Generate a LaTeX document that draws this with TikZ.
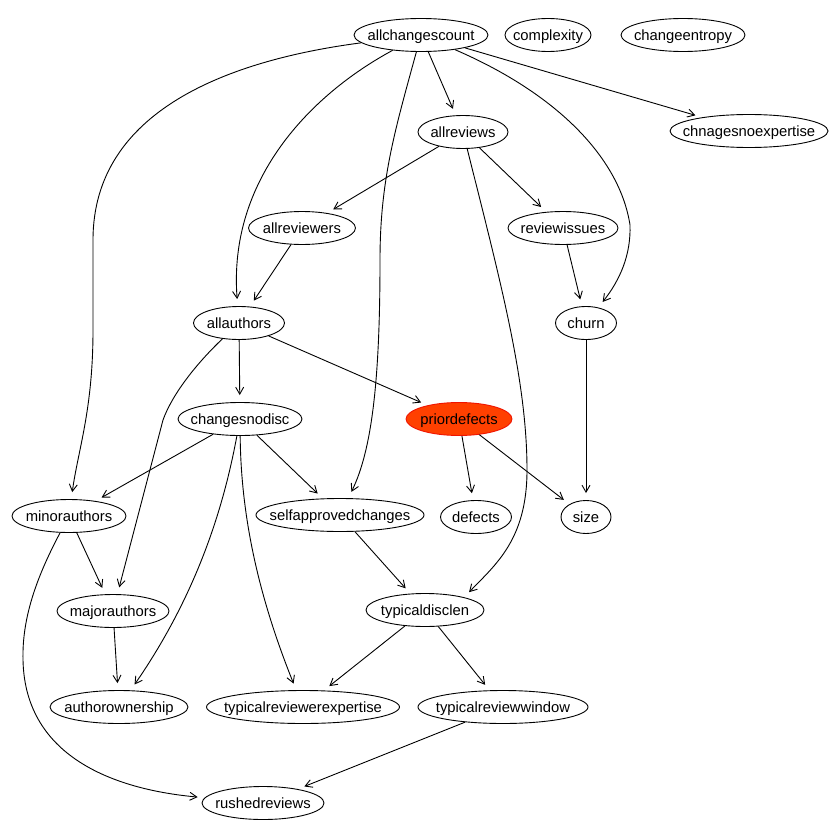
\documentclass[tikz,border=0pt]{standalone}
\usepackage{fontspec}
\setmainfont{Liberation Sans}
\usetikzlibrary{shapes.geometric,arrows.meta}
\definecolor{hilite}{RGB}{255,64,0}
\definecolor{hiliteborder}{RGB}{240,20,0}
% zero-width label so the ellipse keeps its given width
\newcommand{\vlabel}[1]{\makebox[0pt]{#1}}

\begin{document}
\begin{tikzpicture}[x=1pt,y=-1pt,
  var/.style={ellipse, draw, line width=0.9pt, inner sep=0pt, minimum height=33pt,
              text height=10.6pt, text depth=0pt, font=\fontsize{14.8}{17}\selectfont},
  marked/.style={var, fill=hilite, draw=hiliteborder},
  link/.style={line width=0.9pt, -{Straight Barb[length=7pt,width=8pt]}, shorten >=7pt}]
\useasboundingbox[fill=white] (0,0) rectangle (840,840);

% variables
\node[var, minimum width=134pt] (allchangescount) at (421,35) {\vlabel{allchangescount}};
\node[var, minimum width=86pt] (complexity) at (548,35) {\vlabel{complexity}};
\node[var, minimum width=124pt] (changeentropy) at (683,35) {\vlabel{changeentropy}};
\node[var, minimum width=90pt] (allreviews) at (463,132) {\vlabel{allreviews}};
\node[var, minimum width=158pt] (chnagesnoexpertise) at (749,131) {\vlabel{chnagesnoexpertise}};
\node[var, minimum width=107pt] (allreviewers) at (302,228) {\vlabel{allreviewers}};
\node[var, minimum width=110pt] (reviewissues) at (563,228) {\vlabel{reviewissues}};
\node[var, minimum width=91pt] (allauthors) at (239,323) {\vlabel{allauthors}};
\node[var, minimum width=61pt] (churn) at (586,323) {\vlabel{churn}};
\node[var, minimum width=124pt] (changesnodisc) at (240,419) {\vlabel{changesnodisc}};
\node[marked, minimum width=106pt] (priordefects) at (459,419) {\vlabel{priordefects}};
\node[var, minimum width=114pt] (minorauthors) at (69,516) {\vlabel{minorauthors}};
\node[var, minimum width=168pt] (selfapprovedchanges) at (340,515) {\vlabel{selfapprovedchanges}};
\node[var, minimum width=71pt] (defects) at (476,517) {\vlabel{defects}};
\node[var, minimum width=50pt] (size) at (586,517) {\vlabel{size}};
\node[var, minimum width=112pt] (majorauthors) at (113,611) {\vlabel{majorauthors}};
\node[var, minimum width=118pt] (typicaldisclen) at (425,610) {\vlabel{typicaldisclen}};
\node[var, minimum width=138pt] (authorownership) at (119,707) {\vlabel{authorownership}};
\node[var, minimum width=193pt] (typicalreviewerexpertise) at (303,707) {\vlabel{typicalreviewerexpertise}};
\node[var, minimum width=170pt] (typicalreviewwindow) at (503,707) {\vlabel{typicalreviewwindow}};
\node[var, minimum width=122pt] (rushedreviews) at (263,803) {\vlabel{rushedreviews}};

% straight dependencies
\draw[link] (allchangescount) -- (allreviews);
\draw[link] (allchangescount) -- (chnagesnoexpertise);
\draw[link] (allreviews) -- (allreviewers);
\draw[link] (allreviews) -- (reviewissues);
\draw[link] (allreviewers) -- (allauthors);
\draw[link] (reviewissues) -- (churn);
\draw[link] (churn) -- (size);
\draw[link] (allauthors) -- (changesnodisc);
\draw[link] (allauthors) -- (priordefects);
\draw[link] (changesnodisc) -- (minorauthors);
\draw[link] (changesnodisc) -- (selfapprovedchanges);
\draw[link] (priordefects) -- (defects);
\draw[link] (priordefects) -- (size);
\draw[link] (minorauthors) -- (majorauthors);
\draw[link] (selfapprovedchanges) -- (typicaldisclen);
\draw[link] (majorauthors) -- (authorownership);
\draw[link] (typicaldisclen) -- (typicalreviewerexpertise);
\draw[link] (typicaldisclen) -- (typicalreviewwindow);
\draw[link] (typicalreviewwindow) -- (rushedreviews);

% curved dependencies
\draw[link] (allchangescount) .. controls (560,95) and (620,160) .. (630,225)
  .. controls (631,255) and (620,280) .. (churn);
\draw[link] (allchangescount) .. controls (310,95) and (228,180) .. (allauthors);
\draw[link] (allchangescount) .. controls (230,60) and (93,110) .. (93,240) -- (93,330)
  .. controls (93,410) and (78,450) .. (minorauthors);
\draw[link] (allchangescount) .. controls (395,130) and (380,180) .. (380,260)
  .. controls (380,380) and (372,450) .. (selfapprovedchanges);
\draw[link] (allreviews) .. controls (500,280) and (527,380) .. (527,470)
  .. controls (527,540) and (495,565) .. (typicaldisclen.18);
\draw[link] (allauthors) .. controls (195,365) and (172,395) .. (163,420) -- (majorauthors);
\draw[link] (changesnodisc) .. controls (225,500) and (200,590) .. (authorownership);
\draw[link] (changesnodisc) .. controls (241,520) and (260,600) .. (typicalreviewerexpertise);
\draw[link] (minorauthors) .. controls (35,580) and (22,620) .. (23,660)
  .. controls (25,760) and (120,790) .. (rushedreviews);
\end{tikzpicture}
\end{document}
